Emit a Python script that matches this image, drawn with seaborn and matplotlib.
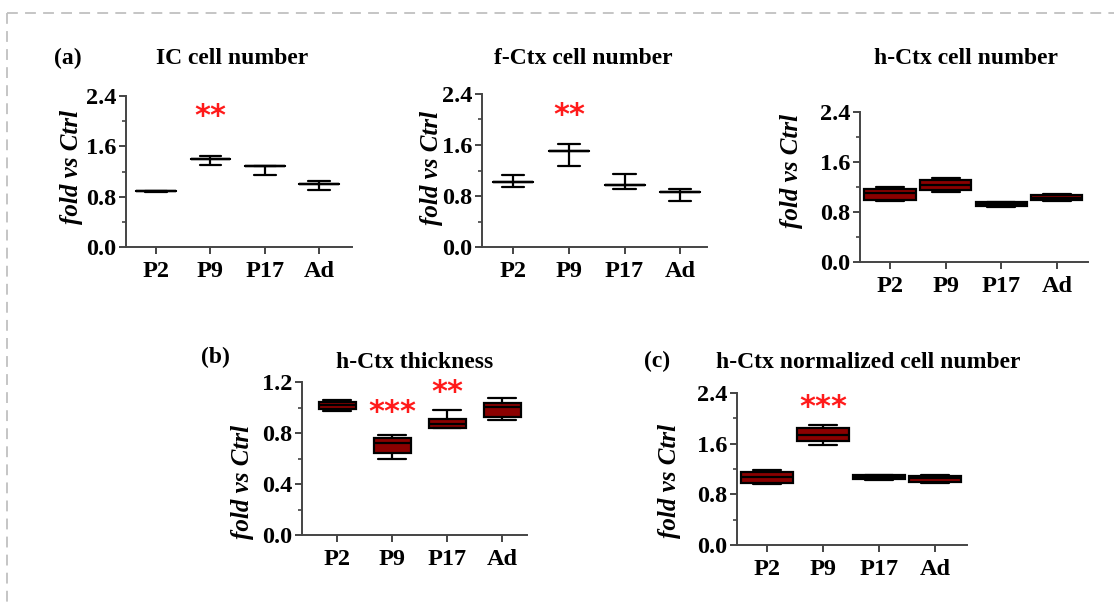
import numpy as np
import pandas as pd
import matplotlib
matplotlib.use("Agg")
import matplotlib.pyplot as plt
import seaborn as sns
from matplotlib.lines import Line2D
from matplotlib.ticker import MultipleLocator

groups = ["P2", "P9", "P17", "Ad"]

# mean +/- error panels: [lower, mean, mean, mean, upper]
ic_cell = [[0.875, 0.885, 0.885, 0.885, 0.895],
           [1.30, 1.40, 1.40, 1.40, 1.44],
           [1.14, 1.28, 1.28, 1.28, 1.28],
           [0.91, 1.00, 1.00, 1.00, 1.05]]
fctx_cell = [[0.94, 1.02, 1.02, 1.02, 1.13],
             [1.27, 1.51, 1.51, 1.51, 1.61],
             [0.91, 0.98, 0.98, 0.98, 1.15],
             [0.72, 0.86, 0.86, 0.86, 0.91]]
# box panels: [min, q1, median, q3, max]
hctx_cell = [[0.98, 0.99, 1.10, 1.17, 1.20],
             [1.12, 1.16, 1.24, 1.32, 1.34],
             [0.88, 0.90, 0.93, 0.96, 0.965],
             [0.98, 0.99, 1.03, 1.08, 1.09]]
hctx_thick = [[0.973, 0.986, 1.017, 1.044, 1.062],
              [0.595, 0.644, 0.725, 0.764, 0.783],
              [0.843, 0.843, 0.872, 0.913, 0.984],
              [0.905, 0.926, 1.004, 1.038, 1.075]]
hctx_norm = [[0.965, 0.986, 1.07, 1.15, 1.187],
             [1.577, 1.635, 1.74, 1.846, 1.89],
             [1.03, 1.04, 1.08, 1.105, 1.108],
             [0.986, 1.002, 1.055, 1.097, 1.108]]

titles = ["IC cell number", "f-Ctx cell number", "h-Ctx cell number",
          "h-Ctx thickness", "h-Ctx normalized cell number"]
stars = [[("P9", "**", 2.14)], [("P9", "**", 2.13)], [],
         [("P9", "***", 0.99), ("P17", "**", 1.15)], [("P9", "***", 2.24)]]
ymax = [2.4, 2.4, 2.4, 1.2, 2.4]
ystep = [0.8, 0.8, 0.8, 0.4, 0.8]

sns.set_style("ticks")
plt.rcParams["font.family"] = ["Liberation Serif", "DejaVu Serif"]
plt.rcParams["text.color"] = "black"
plt.rcParams["xtick.color"] = "black"
plt.rcParams["ytick.color"] = "black"
plt.rcParams["axes.labelcolor"] = "black"

W, H = 1114, 605
fig = plt.figure(figsize=(W / 100, H / 100), dpi=100)

# pixel boxes: left, right, bottom(y of 0), top(y of ymax)
boxes = [(126, 352, 247, 96), (482, 707, 247, 94), (860, 1088, 262, 112),
         (302, 527, 535, 382), (737, 967, 545, 393)]
xlims = [(-0.55, 3.6), (-0.56, 3.48), (-0.54, 3.56), (-0.64, 3.45), (-0.54, 3.57)]
label_xy = [(-0.19, 0.53), (-0.175, 0.52), (-0.25, 0.61), (-0.215, 0.35), (-0.245, 0.42)]
title_xy = [(232, 58), (583, 58), (966, 59), (415, 363), (868, 363)]
datasets = [ic_cell, fctx_cell, hctx_cell, hctx_thick, hctx_norm]
kinds = ["mean", "mean", "box", "box", "box"]
widths = [0.73, 0.72, 0.92, 0.67, 0.92]
caps = [0.4, 0.4, 0.5, 0.5, 0.5]

for i in range(5):
    l, r, b, t = boxes[i]
    ax = fig.add_axes([l / W, 1 - b / H, (r - l) / W, (b - t) / H])
    rows = []
    for g, vals in zip(groups, datasets[i]):
        for v in vals:
            rows.append({"group": g, "value": v})
    df = pd.DataFrame(rows)
    if kinds[i] == "mean":
        sns.boxplot(data=df, x="group", y="value", order=groups, ax=ax,
                    whis=(0, 100), width=widths[i], fill=False,
                    color="black", linecolor="black", linewidth=1.6,
                    capwidths=caps[i])
    else:
        sns.boxplot(data=df, x="group", y="value", order=groups, ax=ax,
                    whis=(0, 100), width=widths[i], color="#8b0000",
                    linecolor="black", linewidth=1.6, saturation=1,
                    capwidths=caps[i])
    ax.set_xlim(*xlims[i])
    ax.set_ylim(0, ymax[i])
    ax.yaxis.set_major_locator(MultipleLocator(ystep[i]))
    ax.yaxis.set_minor_locator(MultipleLocator(ystep[i] / 2))
    for s in ["top", "right"]:
        ax.spines[s].set_visible(False)
    for s in ["left", "bottom"]:
        ax.spines[s].set_linewidth(1.4)
        ax.spines[s].set_color("#444444")
    ax.tick_params(axis="both", which="major", length=5, width=1.4, color="#444444",
                   labelsize=17.5, pad=2, labelcolor="black")
    ax.tick_params(axis="x", which="major", pad=5)
    ax.tick_params(axis="y", which="minor", length=3, width=1.2, color="#444444")
    ax.set_yticklabels([f"{v:.1f}" for v in ax.get_yticks()])
    for lab in ax.get_xticklabels() + ax.get_yticklabels():
        lab.set_fontweight("bold")
    ax.set_xlabel("")
    ax.set_ylabel("fold vs Ctrl", fontsize=18, fontstyle="italic", fontweight="bold")
    ax.yaxis.set_label_coords(*label_xy[i])
    for g, s, y in stars[i]:
        ax.annotate(s, xy=(groups.index(g), y), xytext=(0, -3), textcoords="offset points",
                    color="#ff1a1a", ha="center", va="center",
                    fontsize=22, fontweight="bold", family="DejaVu Sans")
    fig.text(title_xy[i][0] / W, 1 - title_xy[i][1] / H, titles[i], ha="center",
             va="center", fontsize=17, fontweight="bold")

for txt, (x, y) in zip(["(a)", "(b)", "(c)"], [(68, 58), (215, 357), (657, 361)]):
    fig.text(x / W, 1 - y / H, txt, ha="center", va="center", fontsize=17, fontweight="bold")

fig.add_artist(Line2D([7 / W, 1], [1 - 13 / H, 1 - 13 / H], transform=fig.transFigure,
                      color="#c0c0c0", lw=1.3, ls=(0, (6, 4))))
fig.add_artist(Line2D([7 / W, 7 / W], [1 - 13 / H, 0], transform=fig.transFigure,
                      color="#c0c0c0", lw=1.3, ls=(0, (6, 4))))

fig.savefig("out.png", dpi=100)
